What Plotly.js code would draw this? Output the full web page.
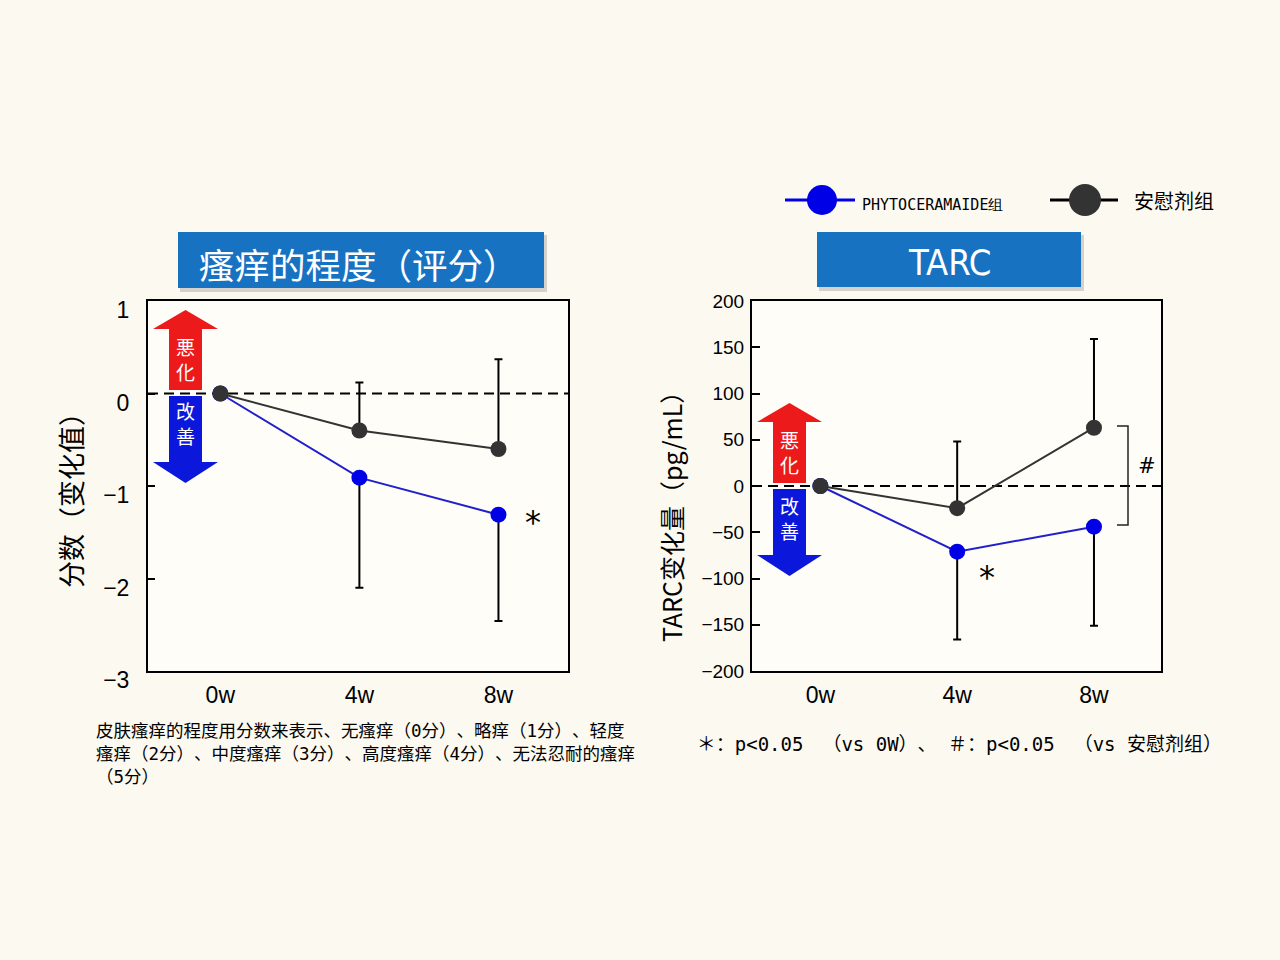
<!DOCTYPE html>
<html>
<head>
<meta charset="utf-8">
<script src="https://cdn.plot.ly/plotly-3.0.1.min.js"></script>
<style>
html,body{margin:0;padding:0;background:#fcf9f0;}
#chart{width:1280px;height:960px;}
#chart text{text-spacing-trim: space-all;}
</style>
</head>
<body>
<div id="chart"></div>
<script>
// ---- data ----
const weeks = ['0w', '4w', '8w'];
const itchPhyto = [0, -0.91, -1.31];
const itchPhytoErrMinus = [0, 1.19, 1.15];
const itchPlacebo = [0, -0.40, -0.60];
const itchPlaceboErrPlus = [0, 0.52, 0.97];
const tarcPhyto = [0, -71, -44];
const tarcPhytoErrMinus = [0, 95, 107];
const tarcPlacebo = [0, -24, 63];
const tarcPlaceboErrPlus = [0, 72, 96];
const zeros = [0, 0, 0];
const seriesNames = ['PHYTOCERAMAIDE组', '安慰剂组'];
const panelTitles = ['瘙痒的程度（评分）', 'TARC'];
const yTitles = ['分数（变化值）', 'TARC变化量（pg/mL）'];

// ---- helpers (pixel -> paper) ----
const W = 1280, H = 960;
const px = x => x / W;
const py = y => 1 - y / H;
const CJK = '"Noto Sans CJK SC", "Noto Sans CJK JP", sans-serif';
const MONO_CJK = '"DejaVu Sans Mono", "Noto Sans CJK SC", monospace';
const SANS = '"Liberation Sans", Arial, sans-serif';
const BLUE = '#0000e6', BLUELINE = '#2020cc', DARK = '#333333';

function mk(x, y, xa, ya, color, lineColor, errPlus, errMinus, name) {
  return {
    x: x, y: y, xaxis: xa, yaxis: ya, type: 'scatter', mode: 'lines+markers', name: name,
    showlegend: false, cliponaxis: false,
    line: {color: lineColor, width: 2},
    marker: {color: color, size: 16},
    error_y: {type: 'data', symmetric: false, array: errPlus, arrayminus: errMinus,
      color: '#000', thickness: 2, width: 4}
  };
}

const traces = [
  mk(weeks, itchPhyto, 'x', 'y', BLUE, BLUELINE, zeros, itchPhytoErrMinus, seriesNames[0]),
  mk(weeks, itchPlacebo, 'x', 'y', DARK, DARK, itchPlaceboErrPlus, zeros, seriesNames[1]),
  mk(weeks, tarcPhyto, 'x2', 'y2', BLUE, BLUELINE, zeros, tarcPhytoErrMinus, seriesNames[0]),
  mk(weeks, tarcPlacebo, 'x2', 'y2', DARK, DARK, tarcPlaceboErrPlus, zeros, seriesNames[1])
];

function arrowUp(cx, tip, headBase, bottom) {
  const hh = 32.5, sh = 16.5;
  return `M ${px(cx)},${py(tip)} L ${px(cx + hh)},${py(headBase)} L ${px(cx + sh)},${py(headBase)} L ${px(cx + sh)},${py(bottom)} L ${px(cx - sh)},${py(bottom)} L ${px(cx - sh)},${py(headBase)} L ${px(cx - hh)},${py(headBase)} Z`;
}
function arrowDown(cx, top, headBase, tip) {
  const hh = 32.5, sh = 16.5;
  return `M ${px(cx - sh)},${py(top)} L ${px(cx + sh)},${py(top)} L ${px(cx + sh)},${py(headBase)} L ${px(cx + hh)},${py(headBase)} L ${px(cx)},${py(tip)} L ${px(cx - hh)},${py(headBase)} L ${px(cx - sh)},${py(headBase)} Z`;
}
function rectPx(x0, y0, x1, y1, fill, extra) {
  return Object.assign({type: 'rect', xref: 'paper', yref: 'paper', x0: px(x0), x1: px(x1), y0: py(y1), y1: py(y0),
    fillcolor: fill, line: {width: 0}, layer: 'above'}, extra || {});
}
const RED_A = '#ec1a1a', BLUE_A = '#0b18dc', TITLE_BLUE = '#1872c2';

const shapes = [
  // zero dashed lines
  {type: 'line', xref: 'x domain', yref: 'y', x0: 0, x1: 1, y0: 0, y1: 0, line: {color: '#000', width: 2, dash: '10px,6px'}, layer: 'below'},
  {type: 'line', xref: 'x2 domain', yref: 'y2', x0: 0, x1: 1, y0: 0, y1: 0, line: {color: '#000', width: 2, dash: '10px,6px'}, layer: 'below'},
  // title boxes with shadow
  rectPx(180, 235, 547, 292, 'rgba(120,120,120,0.30)'),
  rectPx(178, 232, 544, 288, TITLE_BLUE),
  rectPx(819, 235, 1084, 291, 'rgba(120,120,120,0.30)'),
  rectPx(817, 232, 1081, 287, TITLE_BLUE),
  // arrows
  {type: 'path', xref: 'paper', yref: 'paper', path: arrowUp(185.5, 310, 329, 390), fillcolor: RED_A, line: {width: 0}, layer: 'above'},
  {type: 'path', xref: 'paper', yref: 'paper', path: arrowDown(185.5, 396, 462, 483), fillcolor: BLUE_A, line: {width: 0}, layer: 'above'},
  {type: 'path', xref: 'paper', yref: 'paper', path: arrowUp(789.5, 403, 422, 483), fillcolor: RED_A, line: {width: 0}, layer: 'above'},
  {type: 'path', xref: 'paper', yref: 'paper', path: arrowDown(789.5, 489, 555, 576), fillcolor: BLUE_A, line: {width: 0}, layer: 'above'},
  // significance bracket
  {type: 'path', xref: 'paper', yref: 'paper',
   path: `M ${px(1117)},${py(426)} L ${px(1128)},${py(426)} L ${px(1128)},${py(525)} L ${px(1117)},${py(525)}`,
   line: {color: '#222', width: 1.5}, layer: 'above'},
  // legend glyphs
  {type: 'line', xref: 'paper', yref: 'paper', x0: px(785), x1: px(855), y0: py(200), y1: py(200), line: {color: BLUE, width: 3}},
  {type: 'circle', xref: 'paper', yref: 'paper', x0: px(807), x1: px(837), y0: py(215), y1: py(185), fillcolor: BLUE, line: {width: 0}},
  {type: 'line', xref: 'paper', yref: 'paper', x0: px(1050), x1: px(1118), y0: py(200), y1: py(200), line: {color: '#000', width: 3}},
  {type: 'circle', xref: 'paper', yref: 'paper', x0: px(1069), x1: px(1101), y0: py(216), y1: py(184), fillcolor: DARK, line: {width: 0}}
];

function ann(x, y, text, size, color, family, xanchor, extra) {
  return Object.assign({xref: 'paper', yref: 'paper', x: px(x), y: py(y), text: text, showarrow: false,
    xanchor: xanchor || 'center', yanchor: 'middle', font: {size: size, color: color || '#000', family: family || CJK}}, extra || {});
}

const annotations = [
  ann(359, 263, panelTitles[0], 35.5, '#fff'),
  ann(949, 262, panelTitles[1], 36, '#fff', '"DejaVu Sans Condensed", "Liberation Sans Narrow", "Liberation Sans", sans-serif'),
  // axis titles (rotated)
  ann(70.5, 493.5, yTitles[0], 27, '#000', CJK, 'center', {textangle: -90}),
  ann(671, 511, yTitles[1], 25, '#000', CJK, 'center', {textangle: -90}),
  // arrow labels
  ann(185.5, 358.5, '悪<br>化', 19, '#fff', '"Noto Sans CJK JP", sans-serif'),
  ann(185.5, 422.5, '改<br>善', 19, '#fff'),
  ann(789.5, 452, '悪<br>化', 19, '#fff', '"Noto Sans CJK JP", sans-serif'),
  ann(789.5, 518, '改<br>善', 19, '#fff'),
  // significance marks
  ann(533, 522, '*', 32, '#000', '"DejaVu Sans", sans-serif'),
  ann(987, 577, '*', 32, '#000', '"DejaVu Sans", sans-serif'),
  ann(1147, 466, '#', 21, '#000', '"DejaVu Sans", sans-serif'),
  // legend text
  ann(860, 205, seriesNames[0], 15, '#000', '"DejaVu Sans Mono", monospace', 'left'),
  ann(1132, 201, seriesNames[1], 20, '#000', CJK, 'left'),
  // notes
  ann(94, 753.5, '皮肤瘙痒的程度用分数来表示、无瘙痒（0分）、略痒（1分）、轻度<br>瘙痒（2分）、中度瘙痒（3分）、高度瘙痒（4分）、无法忍耐的瘙痒<br>（5分）',
      17.5, '#000', MONO_CJK, 'left', {align: 'left'}),
  ann(709, 744, '＊：p&lt;0.05　（vs 0W）、 ＃：p&lt;0.05　（vs 安慰剂组）', 19, '#000', MONO_CJK, 'left')
];

const axBase = {showline: true, mirror: true, linecolor: '#000', linewidth: 2, showgrid: false, zeroline: false, automargin: false};

const layout = {
  width: W, height: H, autosize: false,
  margin: {l: 0, r: 0, t: 0, b: 0, pad: 0},
  paper_bgcolor: '#fcf9f0', plot_bgcolor: '#fefdf7',
  showlegend: false,
  xaxis: Object.assign({}, axBase, {domain: [px(148), px(568)], anchor: 'y', type: 'category', range: [-0.52, 2.5],
    ticks: '', tickfont: {size: 23, family: SANS, color: '#000'}, ticklabelstandoff: 2}),
  yaxis: Object.assign({}, axBase, {domain: [py(671), py(301)], anchor: 'x', range: [-3, 1], dtick: 1, tick0: 0,
    ticks: 'inside', ticklen: 7, tickwidth: 2, tickcolor: '#000',
    tickfont: {size: 23, family: SANS, color: '#000'}, ticklabelshift: 9, ticklabelstandoff: 12}),
  xaxis2: Object.assign({}, axBase, {domain: [px(752), px(1161)], anchor: 'y2', type: 'category', range: [-0.5, 2.49],
    ticks: '', tickfont: {size: 23, family: SANS, color: '#000'}, ticklabelstandoff: 2}),
  yaxis2: Object.assign({}, axBase, {domain: [py(671), py(301)], anchor: 'x2', range: [-200, 200], dtick: 50, tick0: 0,
    ticks: 'inside', ticklen: 8, tickwidth: 2, tickcolor: '#000',
    tickfont: {size: 19, family: SANS, color: '#000'}, ticklabelstandoff: 2}),
  shapes: shapes,
  annotations: annotations
};

Plotly.newPlot('chart', traces, layout, {displayModeBar: false, staticPlot: true});
</script>
</body>
</html>
